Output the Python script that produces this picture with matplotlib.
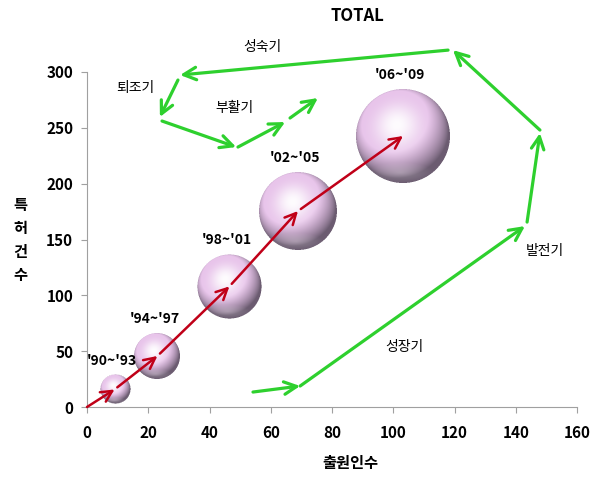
import matplotlib
matplotlib.use("Agg")
import matplotlib.pyplot as plt
import numpy as np
from matplotlib.offsetbox import OffsetImage, AnnotationBbox

plt.rcParams['font.family'] = ['Noto Sans CJK KR', 'DejaVu Sans']

# ---------------- data ----------------
periods = ["'90~'93", "'94~'97", "'98~'01", "'02~'05", "'06~'09"]
applicants = [9.0, 23.0, 46.5, 68.9, 103.2]      # 출원인수
patents = [15.7, 45.7, 108.0, 175.5, 242.7]       # 특허건수
bubble_size = [22, 55, 107, 158, 230]

phase_labels = ["성숙기", "퇴조기", "부활기", "성장기", "발전기"]
phase_x = [57.2, 15.7, 48.3, 103.8, 149.5]
phase_y = [322.0, 285.7, 267.7, 53.7, 139.7]

# green cycle arrows (start -> end, data coords)
green_x0 = [54.2, 69.6, 143.7, 147.9, 117.9, 29.7, 24.5, 49.3, 66.3]
green_y0 = [13.4, 18.8, 165.6, 248.0, 319.6, 292.8, 256.1, 232.8, 258.8]
green_x1 = [69.6, 143.0, 147.9, 119.5, 30.4, 23.8, 48.7, 64.7, 75.4]
green_y1 = [18.8, 162.0, 245.3, 319.6, 297.3, 259.7, 232.8, 255.2, 276.7]

x_ticks = [0, 20, 40, 60, 80, 100, 120, 140, 160]
y_ticks = [0, 50, 100, 150, 200, 250, 300]

# ---------------- figure ----------------
W, H, DPI = 615, 488, 100
fig = plt.figure(figsize=(W / DPI, H / DPI), dpi=DPI)
ax = fig.add_axes([87 / W, 1 - 407 / H, (577 - 87) / W, (407 - 72) / H])
ax.set_xlim(0, 160)
ax.set_ylim(0, 300)

for s in ['top', 'right']:
    ax.spines[s].set_visible(False)
for s in ['left', 'bottom']:
    ax.spines[s].set_color('#a0a0a0')
    ax.spines[s].set_linewidth(0.8)
ax.set_xticks(x_ticks)
ax.set_yticks(y_ticks)
ax.tick_params(axis='both', direction='out', length=4, color='#a0a0a0',
               labelsize=11, pad=6)
for lab in ax.get_xticklabels() + ax.get_yticklabels():
    lab.set_fontweight('bold')
ax.tick_params(axis='x', pad=9)

# ---------------- spheres ----------------
def sphere_image(r_px, ss=3):
    n = int(np.ceil(2 * r_px)) + 2
    m = n * ss
    c = (m - 1) / 2.0
    yy, xx = np.mgrid[0:m, 0:m]
    x = (xx - c) / (r_px * ss)
    y = -(yy - c) / (r_px * ss)
    rho2 = x ** 2 + y ** 2
    inside = rho2 <= 1.0
    z = np.sqrt(np.clip(1 - rho2, 0, 1))
    L = np.array([-0.25, 0.45, 0.86]); L /= np.linalg.norm(L)
    diff = np.clip(x * L[0] + y * L[1] + z * L[2], 0, 1)
    Hh = L + np.array([0, 0, 1.0]); Hh /= np.linalg.norm(Hh)
    spec = np.clip(x * Hh[0] + y * Hh[1] + z * Hh[2], 0, 1) ** 9
    base = np.array([0.91, 0.77, 0.92])
    dark = np.array([0.42, 0.36, 0.44])
    t = diff[..., None]
    col = dark + (base - dark) * np.clip(t * 1.45, 0, 1)
    col = col + (1 - col) * (spec[..., None] * 0.95)
    # soft bottom reflection
    refl = np.clip(1 - np.hypot((x + 0.05) / 0.7, (y + 0.78) / 0.22), 0, 1) * 0.25
    col = col + (1 - col) * refl[..., None]
    col = np.clip(col, 0, 1)
    rgba = np.dstack([col, inside.astype(float)])
    rgba = rgba.reshape(n, ss, n, ss, 4)
    a = rgba[..., 3].mean(axis=(1, 3))
    rgb = (rgba[..., :3] * rgba[..., 3:4]).sum(axis=(1, 3)) / np.maximum(
        rgba[..., 3:4].sum(axis=(1, 3)), 1e-9)
    return np.dstack([rgb, a])

rmax_px = 47.0
for idx, (xv, yv, bs) in enumerate(zip(applicants, patents, bubble_size)):
    r_px = rmax_px * np.sqrt(bs / max(bubble_size))
    img = sphere_image(r_px)
    ab = AnnotationBbox(OffsetImage(img, zoom=1, dpi_cor=False), (xv, yv),
                        frameon=False, pad=0, zorder=2, annotation_clip=False)
    ax.add_artist(ab)
    ax.annotate(periods[idx], (xv, yv),
                xytext=(-3, r_px + 14), textcoords='offset pixels',
                ha='center', va='center', fontsize=10, fontweight='bold',
                zorder=5, annotation_clip=False)

# ---------------- red arrows ----------------
red = '#c00018'
px_prev, py_prev = 0.0, 0.0
for k, (xv, yv) in enumerate(zip(applicants, patents)):
    ax.annotate('', xy=(xv, yv), xytext=(px_prev, py_prev),
                arrowprops=dict(arrowstyle='->,head_length=0.8,head_width=0.4',
                                color=red, lw=1.8,
                                shrinkA=0 if k == 0 else 2.5, shrinkB=0),
                zorder=4, annotation_clip=False)
    px_prev, py_prev = xv, yv

# ---------------- green arrows ----------------
green = '#2ed02e'
for x0, y0, x1, y1 in zip(green_x0, green_y0, green_x1, green_y1):
    ax.annotate('', xy=(x1, y1), xytext=(x0, y0),
                arrowprops=dict(arrowstyle='->,head_length=0.9,head_width=0.45',
                                color=green, lw=2.3, shrinkA=0, shrinkB=0),
                zorder=3, annotation_clip=False)

for lab, xv, yv in zip(phase_labels, phase_x, phase_y):
    ax.text(xv, yv, lab, ha='center', va='center', fontsize=10, zorder=5,
            clip_on=False)

# ---------------- titles ----------------
fig.text(357 / W, 1 - 16 / H, 'TOTAL', ha='center', va='center',
         fontsize=12, fontweight='bold')
fig.text(350 / W, 1 - 463 / H, '출원인수', ha='center', va='center',
         fontsize=11, fontweight='bold')
fig.text(20 / W, 1 - 240 / H, '특\n허\n건\n수', ha='center', va='center',
         fontsize=11, fontweight='bold', linespacing=1.55)

fig.savefig('out.png', dpi=DPI)
